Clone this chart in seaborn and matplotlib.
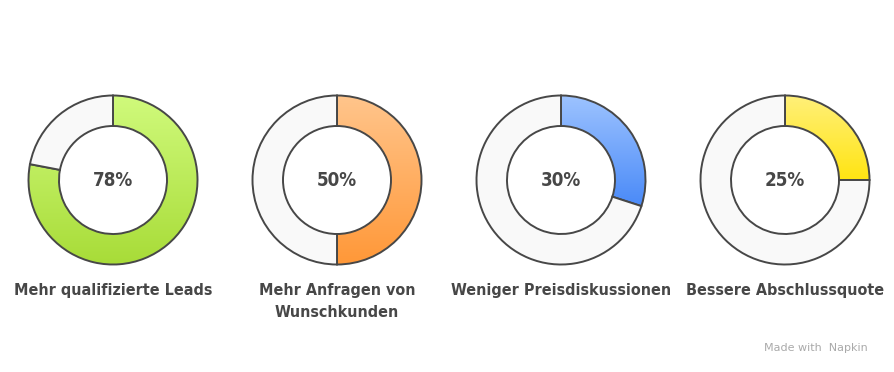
import numpy as np
import matplotlib
matplotlib.use("Agg")
import matplotlib.pyplot as plt
import seaborn as sns
from matplotlib.colors import LinearSegmentedColormap

sns.set_style("white")

# Data
labels = ["Mehr qualifizierte Leads", "Mehr Anfragen von\nWunschkunden",
          "Weniger Preisdiskussionen", "Bessere Abschlussquote"]
percent = [78, 50, 30, 25]
grad_top = ["#d0fa7c", "#ffc58c", "#9dc3ff", "#fff07a"]
grad_bottom = ["#a8dc38", "#ff9838", "#4a8af8", "#ffe412"]

plt.rcParams["font.family"] = ["DejaVu Sans"]

W, H = 894, 372
fig = plt.figure(figsize=(W / 100, H / 100), dpi=100)
ax = fig.add_axes([0, 0, 1, 1])

ink = "#474747"
R, r = 84.5, 54
cy = H - 180
centers = [113, 337, 561, 785]

for i, (cx, p) in enumerate(zip(centers, percent)):
    wedges, _ = ax.pie([p, 100 - p], center=(cx, cy), radius=R,
                       startangle=90, counterclock=False,
                       colors=["none", "#f9f9f9"],
                       wedgeprops=dict(width=R - r, edgecolor=ink, linewidth=1.4),
                       frame=True)
    # vertical gradient clipped to the filled segment
    w = wedges[0]
    bb = w.get_path().get_extents(w.get_patch_transform())
    cmap = LinearSegmentedColormap.from_list(f"g{i}", [grad_bottom[i], grad_top[i]])
    grad = np.linspace(0, 1, 256).reshape(-1, 1)
    im = ax.imshow(grad, cmap=cmap, origin="lower", aspect="auto",
                   extent=(bb.x0, bb.x1, bb.y0, bb.y1), zorder=0.5)
    im.set_clip_path(w)
    w.set_zorder(1)
    ax.text(cx, cy, f"{p}%", ha="center", va="center", fontsize=13.5,
            fontweight="bold", fontstretch="condensed", color=ink)
    ax.text(cx, H - 283, labels[i], ha="center", va="top", fontsize=11.5,
            fontweight="bold", fontstretch="condensed", color=ink, linespacing=1.6)

ax.set_xlim(0, W)
ax.set_ylim(0, H)
ax.set_aspect("equal")
ax.axis("off")

ax.text(816, H - 348, "Made with  Napkin", ha="center", va="center",
        fontsize=8, color="#aaaaaa", family="DejaVu Sans")

fig.savefig("out.png", dpi=100)
